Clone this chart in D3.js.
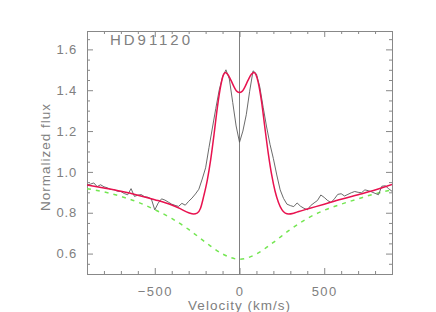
<!DOCTYPE html>
<html>
<head>
<meta charset="utf-8">
<script src="https://cdn.jsdelivr.net/npm/d3@7"></script>
<style>
  body { margin: 0; background: #fff; }
  svg { display: block; }
  text { font-family: "Liberation Sans", Arial, sans-serif; fill: #808080; }
</style>
</head>
<body>
<div id="chart"></div>
<script>
// line profile of HD91120: observed spectrum, model fit, photospheric profile
var title = 'HD91120'
  , xLabel = 'Velocity (km/s)'
  , yLabel = 'Normalized flux'
  , xMajor = [-500, 0, 500]
  , xMinor = [-900, -800, -700, -600, -400, -300, -200, -100, 100, 200, 300, 400, 600, 700, 800, 900]
  , yMajor = [0.6, 0.8, 1.0, 1.2, 1.4, 1.6]
  , yMinor = [0.55, 0.65, 0.7, 0.75, 0.85, 0.9, 0.95, 1.05, 1.1, 1.15, 1.25, 1.3, 1.35, 1.45, 1.5, 1.55, 1.65]

// observed spectrum (gray)
var obsV = [-900, -880, -860, -840, -820, -800, -780, -760, -740, -720, -700, -680, -660, -640, -620,
  -600, -580, -560, -540, -520, -500, -480, -460, -440, -420, -400, -380, -360, -340, -320,
  -300, -280, -260, -240, -220, -200, -180, -160, -140, -120, -100, -80, -60, -40, -20,
  0, 20, 40, 60, 80, 100, 120, 140, 160, 180, 200, 220, 240, 260, 280,
  300, 320, 340, 360, 380, 400, 420, 440, 460, 480, 500, 520, 540, 560, 580,
  600, 620, 640, 660, 680, 700, 720, 740, 760, 780, 800, 820, 840, 860, 880, 900]
var obsF = [0.936, 0.940, 0.946, 0.928, 0.937, 0.927, 0.922, 0.914, 0.913, 0.905, 0.904, 0.894, 0.888, 0.918, 0.880,
  0.886, 0.889, 0.878, 0.876, 0.867, 0.814, 0.847, 0.868, 0.862, 0.852, 0.842, 0.836, 0.831, 0.846, 0.837,
  0.856, 0.872, 0.892, 0.915, 0.965, 1.020, 1.120, 1.215, 1.310, 1.400, 1.465, 1.500, 1.455, 1.340, 1.225,
  1.145, 1.200, 1.280, 1.395, 1.495, 1.480, 1.415, 1.315, 1.220, 1.135, 1.065, 0.985, 0.912, 0.870, 0.842,
  0.835, 0.830, 0.848, 0.832, 0.822, 0.814, 0.835, 0.848, 0.860, 0.887, 0.875, 0.860, 0.850, 0.868, 0.890,
  0.893, 0.882, 0.890, 0.898, 0.904, 0.900, 0.898, 0.912, 0.908, 0.902, 0.895, 0.888, 0.930, 0.932, 0.918, 0.905]

// model fit (red)
var fitV = [-900, -800, -700, -600, -500, -400, -350, -300, -270, -250, -230, -210, -190, -170, -150,
  -130, -110, -95, -84, -70, -50, -30, -15, 0, 15, 30, 50, 70, 86, 97,
  110, 130, 150, 170, 190, 210, 230, 250, 270, 290, 320, 350, 400, 500, 600, 700, 800, 900]
var fitF = [0.936, 0.921, 0.905, 0.886, 0.864, 0.838, 0.820, 0.800, 0.794, 0.798, 0.822, 0.885, 0.960, 1.060, 1.185,
  1.320, 1.425, 1.475, 1.487, 1.478, 1.448, 1.413, 1.394, 1.389, 1.394, 1.413, 1.448, 1.478, 1.487, 1.476,
  1.440, 1.345, 1.215, 1.090, 0.985, 0.905, 0.850, 0.815, 0.798, 0.794, 0.798, 0.806, 0.818, 0.842, 0.866, 0.888, 0.911, 0.938]

// photospheric profile (green dashed)
var photV = [-900, -800, -700, -600, -500, -400, -300, -200, -100, 0, 100, 200, 300, 400, 500, 600, 700, 800, 900]
var photF = [0.918, 0.902, 0.880, 0.852, 0.815, 0.772, 0.718, 0.655, 0.598, 0.572, 0.598, 0.655, 0.718, 0.772, 0.812, 0.842, 0.868, 0.893, 0.912]

var W = 436, H = 312
  , m = {left: 87, right: 44, top: 31, bottom: 38}
  , iw = W - m.left - m.right
  , ih = H - m.top - m.bottom
  , axisColor = '#888'

var svg = d3.select('#chart').append('svg')
  .attr('width', W).attr('height', H)

var x = d3.scaleLinear().domain([-900, 900]).range([0, iw])
  , y = d3.scaleLinear().domain([0.5, 1.69]).range([ih, 0])

var g = svg.append('g').attr('transform', 'translate(' + [m.left, m.top] + ')')

function zip(vs, fs){ return vs.map(function(v, i){ return [v, fs[i]] }) }

var line = d3.line().x(function(d){ return x(d[0]) }).y(function(d){ return y(d[1]) })

// axes: major and minor ticks on all four sides, pointing inward
function styleAxis(sel){
  sel.select('.domain').remove()
  sel.selectAll('line').attr('stroke', axisColor)
  sel.selectAll('text').attr('fill', '#8a8a8a').style('font-size', '13px')
    .attr('font-family', '"Liberation Sans", Arial, sans-serif')
}

g.append('g').attr('transform', 'translate(0,' + ih + ')')
  .call(d3.axisBottom(x).tickValues(xMajor).tickSizeInner(-6).tickSizeOuter(0).tickPadding(13).tickFormat(d3.format('d')))
  .call(styleAxis)
  .selectAll('text').style('letter-spacing', '1.5px')
g.append('g').attr('transform', 'translate(0,' + ih + ')')
  .call(d3.axisBottom(x).tickValues(xMinor).tickSizeInner(-3).tickSizeOuter(0).tickFormat(''))
  .call(styleAxis)
g.append('g')
  .call(d3.axisTop(x).tickValues(xMajor).tickSizeInner(-6).tickSizeOuter(0).tickFormat(''))
  .call(styleAxis)
g.append('g')
  .call(d3.axisTop(x).tickValues(xMinor).tickSizeInner(-3).tickSizeOuter(0).tickFormat(''))
  .call(styleAxis)

g.append('g')
  .call(d3.axisLeft(y).tickValues(yMajor).tickSizeInner(-6).tickSizeOuter(0).tickPadding(10).tickFormat(d3.format('.1f')))
  .call(styleAxis)
  .selectAll('text').style('letter-spacing', '0.8px')
g.append('g')
  .call(d3.axisLeft(y).tickValues(yMinor).tickSizeInner(-3).tickSizeOuter(0).tickFormat(''))
  .call(styleAxis)
g.append('g').attr('transform', 'translate(' + iw + ',0)')
  .call(d3.axisRight(y).tickValues(yMajor).tickSizeInner(-6).tickSizeOuter(0).tickFormat(''))
  .call(styleAxis)
g.append('g').attr('transform', 'translate(' + iw + ',0)')
  .call(d3.axisRight(y).tickValues(yMinor).tickSizeInner(-3).tickSizeOuter(0).tickFormat(''))
  .call(styleAxis)

// frame
g.append('rect')
  .attr('x', 0.5).attr('y', 0.5).attr('width', iw).attr('height', ih)
  .attr('fill', 'none').attr('stroke', axisColor).attr('stroke-width', 1)

// zero-velocity marker
g.append('line')
  .attr('x1', x(0)).attr('x2', x(0)).attr('y1', 0).attr('y2', ih)
  .attr('stroke', '#808080').attr('stroke-width', 1)

var clip = g.append('clipPath').attr('id', 'clip')
  .append('rect').attr('width', iw).attr('height', ih)

var curves = g.append('g').attr('clip-path', 'url(#clip)')

curves.append('path').datum(zip(photV, photF))
  .attr('d', line.curve(d3.curveMonotoneX))
  .attr('fill', 'none').attr('stroke', '#74e652').attr('stroke-width', 1.5)
  .attr('stroke-dasharray', '4,5')

curves.append('path').datum(zip(obsV, obsF))
  .attr('d', line.curve(d3.curveLinear))
  .attr('fill', 'none').attr('stroke', '#5a5a5a').attr('stroke-width', 0.9)

curves.append('path').datum(zip(fitV, fitF))
  .attr('d', line.curve(d3.curveMonotoneX))
  .attr('fill', 'none').attr('stroke', '#e8124f').attr('stroke-width', 1.5)

// labels
g.append('text').text(title)
  .attr('x', 23).attr('y', 13.5)
  .attr('textLength', 80).attr('lengthAdjust', 'spacing')
  .style('font-size', '15px').attr('fill', '#8a8a8a')

svg.append('text').text(xLabel)
  .attr('x', m.left + x(0)).attr('y', 310)
  .attr('text-anchor', 'middle')
  .style('font-size', '13.5px').style('letter-spacing', '1px')

svg.append('text').text(yLabel)
  .attr('transform', 'translate(50,157) rotate(-90)')
  .attr('text-anchor', 'middle')
  .style('font-size', '13.5px').style('letter-spacing', '1px')
</script>
</body>
</html>
